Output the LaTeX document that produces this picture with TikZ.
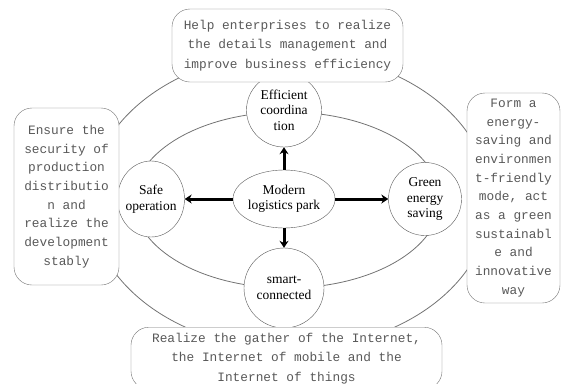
\documentclass[tikz,border=0pt]{standalone}
\usepackage{fontspec}
\setmainfont{Liberation Serif}
\newfontfamily\monofam{Liberation Mono}
\usetikzlibrary{arrows.meta,shapes.geometric,positioning}

\begin{document}
\begin{tikzpicture}[x=1pt,y=-1pt,>={Stealth[length=7pt,width=9pt]},
    orbit/.style={draw=black!55,line width=0.8pt},
    note/.style={draw=black!55,fill=white,rounded corners=18pt,align=center,inner sep=0pt,
                 text=black!65,font=\monofam\fontsize{12.8}{18.7}\selectfont},
    widenote/.style={note,font=\monofam\fontsize{12.8}{19.5}\selectfont},
    ring/.style={ellipse,draw=black!65,fill=white,align=center,inner sep=-3pt,
                 font=\fontsize{13.5}{15.5}\selectfont}]
                  \useasboundingbox (0,0) rectangle (561,383);
                  \draw[orbit] (290,201) ellipse [x radius=200pt, y radius=148pt];
                  \draw[orbit] (287,200) ellipse [x radius=153pt, y radius=88pt];

                  \node[ring,minimum width=102pt,minimum height=58pt] (park) at (284,199) {Modern\\logistics park};
                  \node[ring,minimum width=75pt,minimum height=74pt]  (coord) [above of=park,node distance=89pt]  {Efficient\\coordina\\tion};
                  \node[ring,minimum width=67pt,minimum height=76pt]  (safe)  [left of=park,node distance=133pt]  {Safe\\operation};
                  \node[ring,minimum width=73pt,minimum height=73pt]  (green) [right of=park,node distance=141pt] {Green\\energy\\saving};
                  \node[ring,minimum width=80pt,minimum height=80pt]  (smart) [below of=park,node distance=89pt]  {smart-\\connected};

                  \node[widenote,minimum width=231pt,minimum height=73pt] (help) at (287.5,45.5)
                        {Help enterprises to realize\\the details management and\\improve business efficiency};
                  \node[note,minimum width=105pt,minimum height=177pt] (ensure) at (66.5,196.5)
                        {Ensure the\\security of\\production\\distributio\\n and\\realize the\\development\\stably};
                  \node[note,minimum width=93pt,minimum height=210pt] (form) at (513.5,198)
                        {Form a\\energy-\\saving and\\environmen\\t-friendly\\mode, act\\as a green\\sustainabl\\e and\\innovative\\way};
                  \node[widenote,anchor=north,minimum width=311pt,minimum height=62pt] (gather) at (286.5,327)
                        {Realize the gather of the Internet,\\the Internet of mobile and the\\Internet of things};

                      \draw[->, line width=3pt]
                               (park) edge (coord)
                                      edge (safe)
                                      edge (green)
                                      edge (smart);
        \end{tikzpicture}
\end{document}
